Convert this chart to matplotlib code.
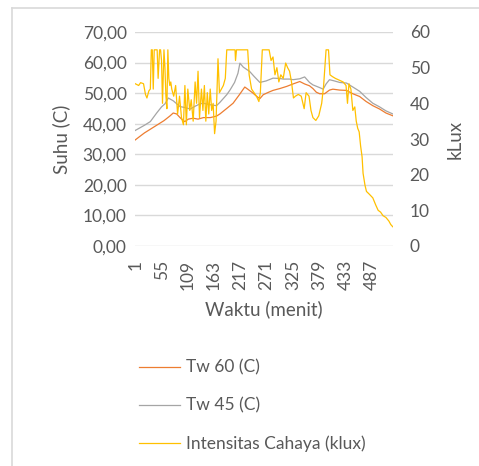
import matplotlib
matplotlib.use("Agg")
import matplotlib.pyplot as plt
from matplotlib.lines import Line2D
from matplotlib.ticker import FuncFormatter

plt.rcParams['font.family'] = ['Lato', 'DejaVu Sans']

# ---- data ----
tw60_min = [1, 10, 20, 32, 45, 60, 72, 79, 86, 93, 100, 103, 110, 120, 130, 141, 155, 168, 175, 189,
            202, 215, 226, 233, 243, 250, 257, 264, 275, 284, 298, 312, 325, 339, 349, 359, 366, 373,
            380, 390, 400, 407, 421, 435, 448, 462, 475, 489, 503, 516, 530]
tw60_val = [34.7, 35.8, 37.0, 38.2, 39.5, 41.0, 42.5, 43.5, 43.2, 42.0, 41.0, 40.7, 41.5, 41.8, 41.5,
            42.0, 42.0, 42.5, 43.2, 45.0, 46.7, 49.5, 52.0, 51.2, 50.0, 49.0, 48.2, 49.5, 50.3, 50.9,
            51.5, 52.2, 53.0, 53.8, 53.0, 52.4, 51.5, 50.3, 49.8, 49.8, 51.0, 51.3, 51.0, 50.9, 49.8,
            48.9, 47.3, 45.9, 44.8, 43.5, 42.6]

tw45_min = [1, 10, 20, 32, 45, 55, 62, 69, 79, 93, 103, 114, 125, 134, 141, 155, 168, 175, 189, 196,
            205, 212, 216, 223, 236, 245, 257, 270, 284, 298, 305, 318, 325, 339, 349, 359, 366, 380,
            387, 393, 400, 410, 421, 435, 448, 462, 475, 489, 503, 516, 530]
tw45_val = [37.8, 38.6, 39.5, 40.7, 43.5, 45.5, 46.5, 48.4, 47.5, 45.6, 45.3, 44.8, 45.8, 46.5, 46.7,
            46.2, 45.9, 47.0, 49.5, 51.1, 53.5, 56.5, 59.8, 58.5, 57.1, 55.5, 53.5, 54.0, 54.9, 54.8,
            54.6, 54.6, 54.4, 54.7, 55.3, 53.5, 52.7, 51.8, 51.3, 53.0, 54.4, 54.0, 53.5, 53.3, 52.0,
            50.6, 48.6, 46.7, 45.5, 44.2, 43.2]

lux_min = [1, 8, 12, 18, 22, 25, 29, 32, 34, 36, 38, 40, 43, 46, 48, 51, 53, 55, 57, 60,
           62, 64, 66, 68, 70, 72, 74, 76, 80, 84, 88, 92, 96, 100, 103, 106, 109, 113, 116, 120, 124,
           127, 130, 133, 137, 140, 143, 146, 149, 152, 155, 158, 161, 164, 167, 171, 174, 178, 182,
           186, 189, 200, 206, 207, 209, 226, 232, 235, 240, 245, 250, 255, 258, 262, 276, 280, 284,
           288, 292, 296, 300, 305, 310, 314, 318, 322, 326, 330, 336, 342, 348, 352, 358, 362, 366,
           372, 378, 384, 388, 393, 398, 401, 406, 412, 420, 428, 434, 437, 440, 444, 448, 452, 455,
           458, 461, 464, 467, 469, 473, 476, 482, 489, 495, 500, 505, 510, 516, 522, 526, 530]
lux_val = [45.5, 45.0, 45.8, 45.5, 42.5, 41.5, 43.5, 44.0, 55, 55, 44, 55, 55, 55, 47, 55,
           55, 52, 40, 55, 50, 42, 38.5, 55, 47, 45, 46, 44, 42, 45, 37, 42, 36, 34, 45, 34, 44, 38,
           41, 35, 46, 40, 49, 36, 44, 38, 45, 35, 43, 37, 44, 38, 40, 31.5, 35, 52.5, 43, 44, 45,
           47, 55, 55, 55, 52, 55, 55, 55, 48, 44, 43, 42, 40.5, 43, 55, 55, 52, 53, 48, 50, 46, 48,
           47, 51.3, 50, 49, 46, 41.5, 42, 42.5, 42, 38.5, 43, 42, 38, 36, 35.2, 36.5, 40, 45, 55,
           55, 48, 47.5, 47, 46.5, 46, 45, 40, 45.5, 44, 38, 39, 35, 33, 32, 28, 25, 20.4, 17, 15.3,
           14.5, 13.5, 11.5, 10, 9.5, 8.5, 8.0, 7.0, 6.0, 5.4]

x_tick_labels = ['1', '55', '109', '163', '217', '271', '325', '379', '433', '487']
left_ticks = [0, 10, 20, 30, 40, 50, 60, 70]
right_ticks = [0, 10, 20, 30, 40, 50, 60]

# ---- figure ----
W, H = 479, 466
fig = plt.figure(figsize=(W / 100, H / 100), dpi=100)
ax = fig.add_axes([135 / W, 1 - 246 / H, (393 - 135) / W, (246 - 32) / H])
ax2 = ax.twinx()

txt = '#595959'
grid = '#D9D9D9'

ax.set_xlim(0.5, 530.5)
ax.set_ylim(0, 70)
ax2.set_ylim(0, 60)

for y in left_ticks:
    ax.axhline(y, color=grid, lw=1.0, zorder=0)

l1, = ax.plot(tw60_min, tw60_val, color='#ED7D31', lw=0.9, label='Tw 60 (C)', zorder=3)
l2, = ax.plot(tw45_min, tw45_val, color='#A5A5A5', lw=0.9, label='Tw 45 (C)', zorder=2)
l3, = ax2.plot(lux_min, lux_val, color='#FFC000', lw=0.9, label='Intensitas Cahaya (klux)')

ax.set_yticks(left_ticks)
ax.yaxis.set_major_formatter(FuncFormatter(lambda v, p: f'{v:.2f}'.replace('.', ',')))
ax2.set_yticks(right_ticks)
ax.set_xticks([int(t) for t in x_tick_labels])
ax.set_xticklabels(x_tick_labels, rotation=90)

for a in (ax, ax2):
    for s in a.spines.values():
        s.set_visible(False)
    a.tick_params(length=0, colors=txt, labelsize=12.5)
ax.tick_params(axis='y', pad=6)
ax2.tick_params(axis='y', pad=12)
ax.tick_params(axis='x', pad=10)

ax.set_ylabel('Suhu (C)', color=txt, fontsize=13.5, labelpad=9)
ax2.set_ylabel('kLux', color=txt, fontsize=13.5, labelpad=12)
ax.set_xlabel('Waktu (menit)', color=txt, fontsize=13.5, labelpad=7)

leg = fig.legend(handles=[l1, l2, l3], loc='upper left',
                 bbox_to_anchor=(123 / W, 1 - 344 / H), frameon=False,
                 fontsize=12.5, labelcolor=txt, handlelength=2.4, handletextpad=0.35,
                 labelspacing=1.25)

# chart-area border (top and left visible)
fig.add_artist(Line2D([12 / W, 1], [1 - 8 / H, 1 - 8 / H], color=grid, lw=1.2,
                      transform=fig.transFigure))
fig.add_artist(Line2D([12 / W, 12 / W], [0, 1 - 8 / H], color=grid, lw=1.2,
                      transform=fig.transFigure))

fig.savefig('out.png', dpi=100)
